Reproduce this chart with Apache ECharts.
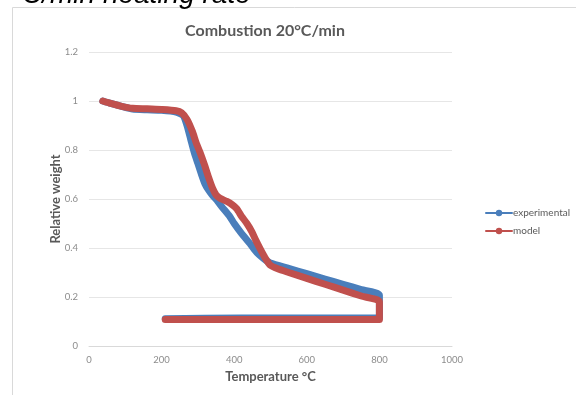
<!DOCTYPE html>
<html>
<head>
<meta charset="utf-8">
<script src="https://cdn.jsdelivr.net/npm/echarts@6/dist/echarts.min.js"></script>
<style>html,body{margin:0;padding:0;background:#fff;}#c{width:576px;height:395px;}</style>
</head>
<body>
<div id="c"></div>
<script>
const expTemp = [38, 60, 90, 120, 160, 200, 240, 260, 270, 280, 290, 300, 310, 320, 330, 340, 352, 365, 388, 400, 420, 443, 455, 468, 480, 490, 500, 550, 600, 650, 700, 750, 800, 800, 600, 420, 210];
const expWeight = [1.0, 0.99, 0.978, 0.967, 0.964, 0.962, 0.955, 0.94, 0.9, 0.845, 0.79, 0.745, 0.7, 0.66, 0.635, 0.615, 0.596, 0.57, 0.528, 0.5, 0.46, 0.419, 0.395, 0.373, 0.358, 0.347, 0.339, 0.317, 0.295, 0.273, 0.252, 0.23, 0.208, 0.114, 0.114, 0.114, 0.111];
const modTemp = [38, 60, 90, 120, 160, 200, 240, 255, 270, 285, 295, 306, 318, 329, 340, 350, 361, 380, 395, 407, 420, 435, 448, 460, 472, 485, 499, 520, 550, 600, 650, 700, 750, 800, 800, 600, 400, 210];
const modWeight = [1.0, 0.99, 0.978, 0.97, 0.968, 0.965, 0.96, 0.952, 0.925, 0.875, 0.83, 0.79, 0.74, 0.69, 0.645, 0.617, 0.603, 0.59, 0.576, 0.56, 0.53, 0.5, 0.468, 0.43, 0.395, 0.36, 0.33, 0.315, 0.3, 0.276, 0.252, 0.228, 0.204, 0.181, 0.108, 0.108, 0.108, 0.108];
const seriesNames = ['experimental', 'model'];
const xTicks = [0, 200, 400, 600, 800, 1000];
const yTicks = [0, 0.2, 0.4, 0.6, 0.8, 1, 1.2];

const zip = (a, b) => a.map((v, i) => [v, b[i]]);
const chart = echarts.init(document.getElementById('c'));
const font = 'Lato, "Open Sans", sans-serif';
chart.setOption({
  animation: false,
  textStyle: { fontFamily: font },
  title: {
    text: 'Combustion 20°C/min',
    left: 260, top: 18, textAlign: 'center',
    textStyle: { fontSize: 16, fontWeight: 'bold', color: '#595959', fontFamily: font }
  },
  graphic: [
    { type: 'rect', shape: { x: 12.5, y: 7.5, width: 600, height: 420 }, style: { fill: 'none', stroke: '#d9d9d9', lineWidth: 1 }, z: -10 },
    { type: 'text', left: 22, top: -19, style: { text: 'C/min heating rate', font: 'italic 28px "Liberation Sans", Arial, sans-serif', fill: '#000' } }
  ],
  legend: {
    orient: 'vertical', left: 480, top: 203, itemGap: 8,
    itemWidth: 26, itemHeight: 8,
    data: seriesNames,
    textStyle: { fontSize: 10, color: '#595959', padding: [0, 0, 0, -4] },
    lineStyle: { width: 2 }
  },
  grid: { left: 89, right: 124, top: 52, bottom: 49 },
  xAxis: {
    type: 'value', min: xTicks[0], max: xTicks[xTicks.length - 1], interval: 200,
    name: 'Temperature °C', nameLocation: 'middle', nameGap: 24,
    nameTextStyle: { fontSize: 13, fontWeight: 'bold', color: '#595959' },
    axisLine: { lineStyle: { color: '#d9d9d9' } },
    axisTick: { show: false },
    splitLine: { show: false },
    axisLabel: { fontSize: 9.5, color: '#8c8c8c', margin: 9, formatter: v => String(v) }
  },
  yAxis: {
    type: 'value', min: yTicks[0], max: yTicks[yTicks.length - 1], interval: 0.2,
    name: 'Relative weight', nameLocation: 'middle', nameGap: 27, nameMoveOverlap: false,
    nameTextStyle: { fontSize: 13, fontWeight: 'bold', color: '#595959' },
    axisLine: { show: false },
    axisTick: { show: false },
    splitLine: { lineStyle: { color: '#e6e6e6' } },
    axisLabel: { fontSize: 9.5, color: '#8c8c8c', margin: 11 }
  },
  series: [
    { name: seriesNames[0], type: 'line', data: zip(expTemp, expWeight), showSymbol: false, symbol: 'circle', symbolSize: 6, smooth: 0.2,
      color: '#4a7ebb', lineStyle: { width: 7, color: '#4a7ebb', cap: 'round', join: 'round' } },
    { name: seriesNames[1], type: 'line', data: zip(modTemp, modWeight), showSymbol: false, symbol: 'circle', symbolSize: 6, smooth: 0.2,
      color: '#c0504d', lineStyle: { width: 7, color: '#c0504d', cap: 'round', join: 'round' } }
  ]
});
</script>
</body>
</html>
